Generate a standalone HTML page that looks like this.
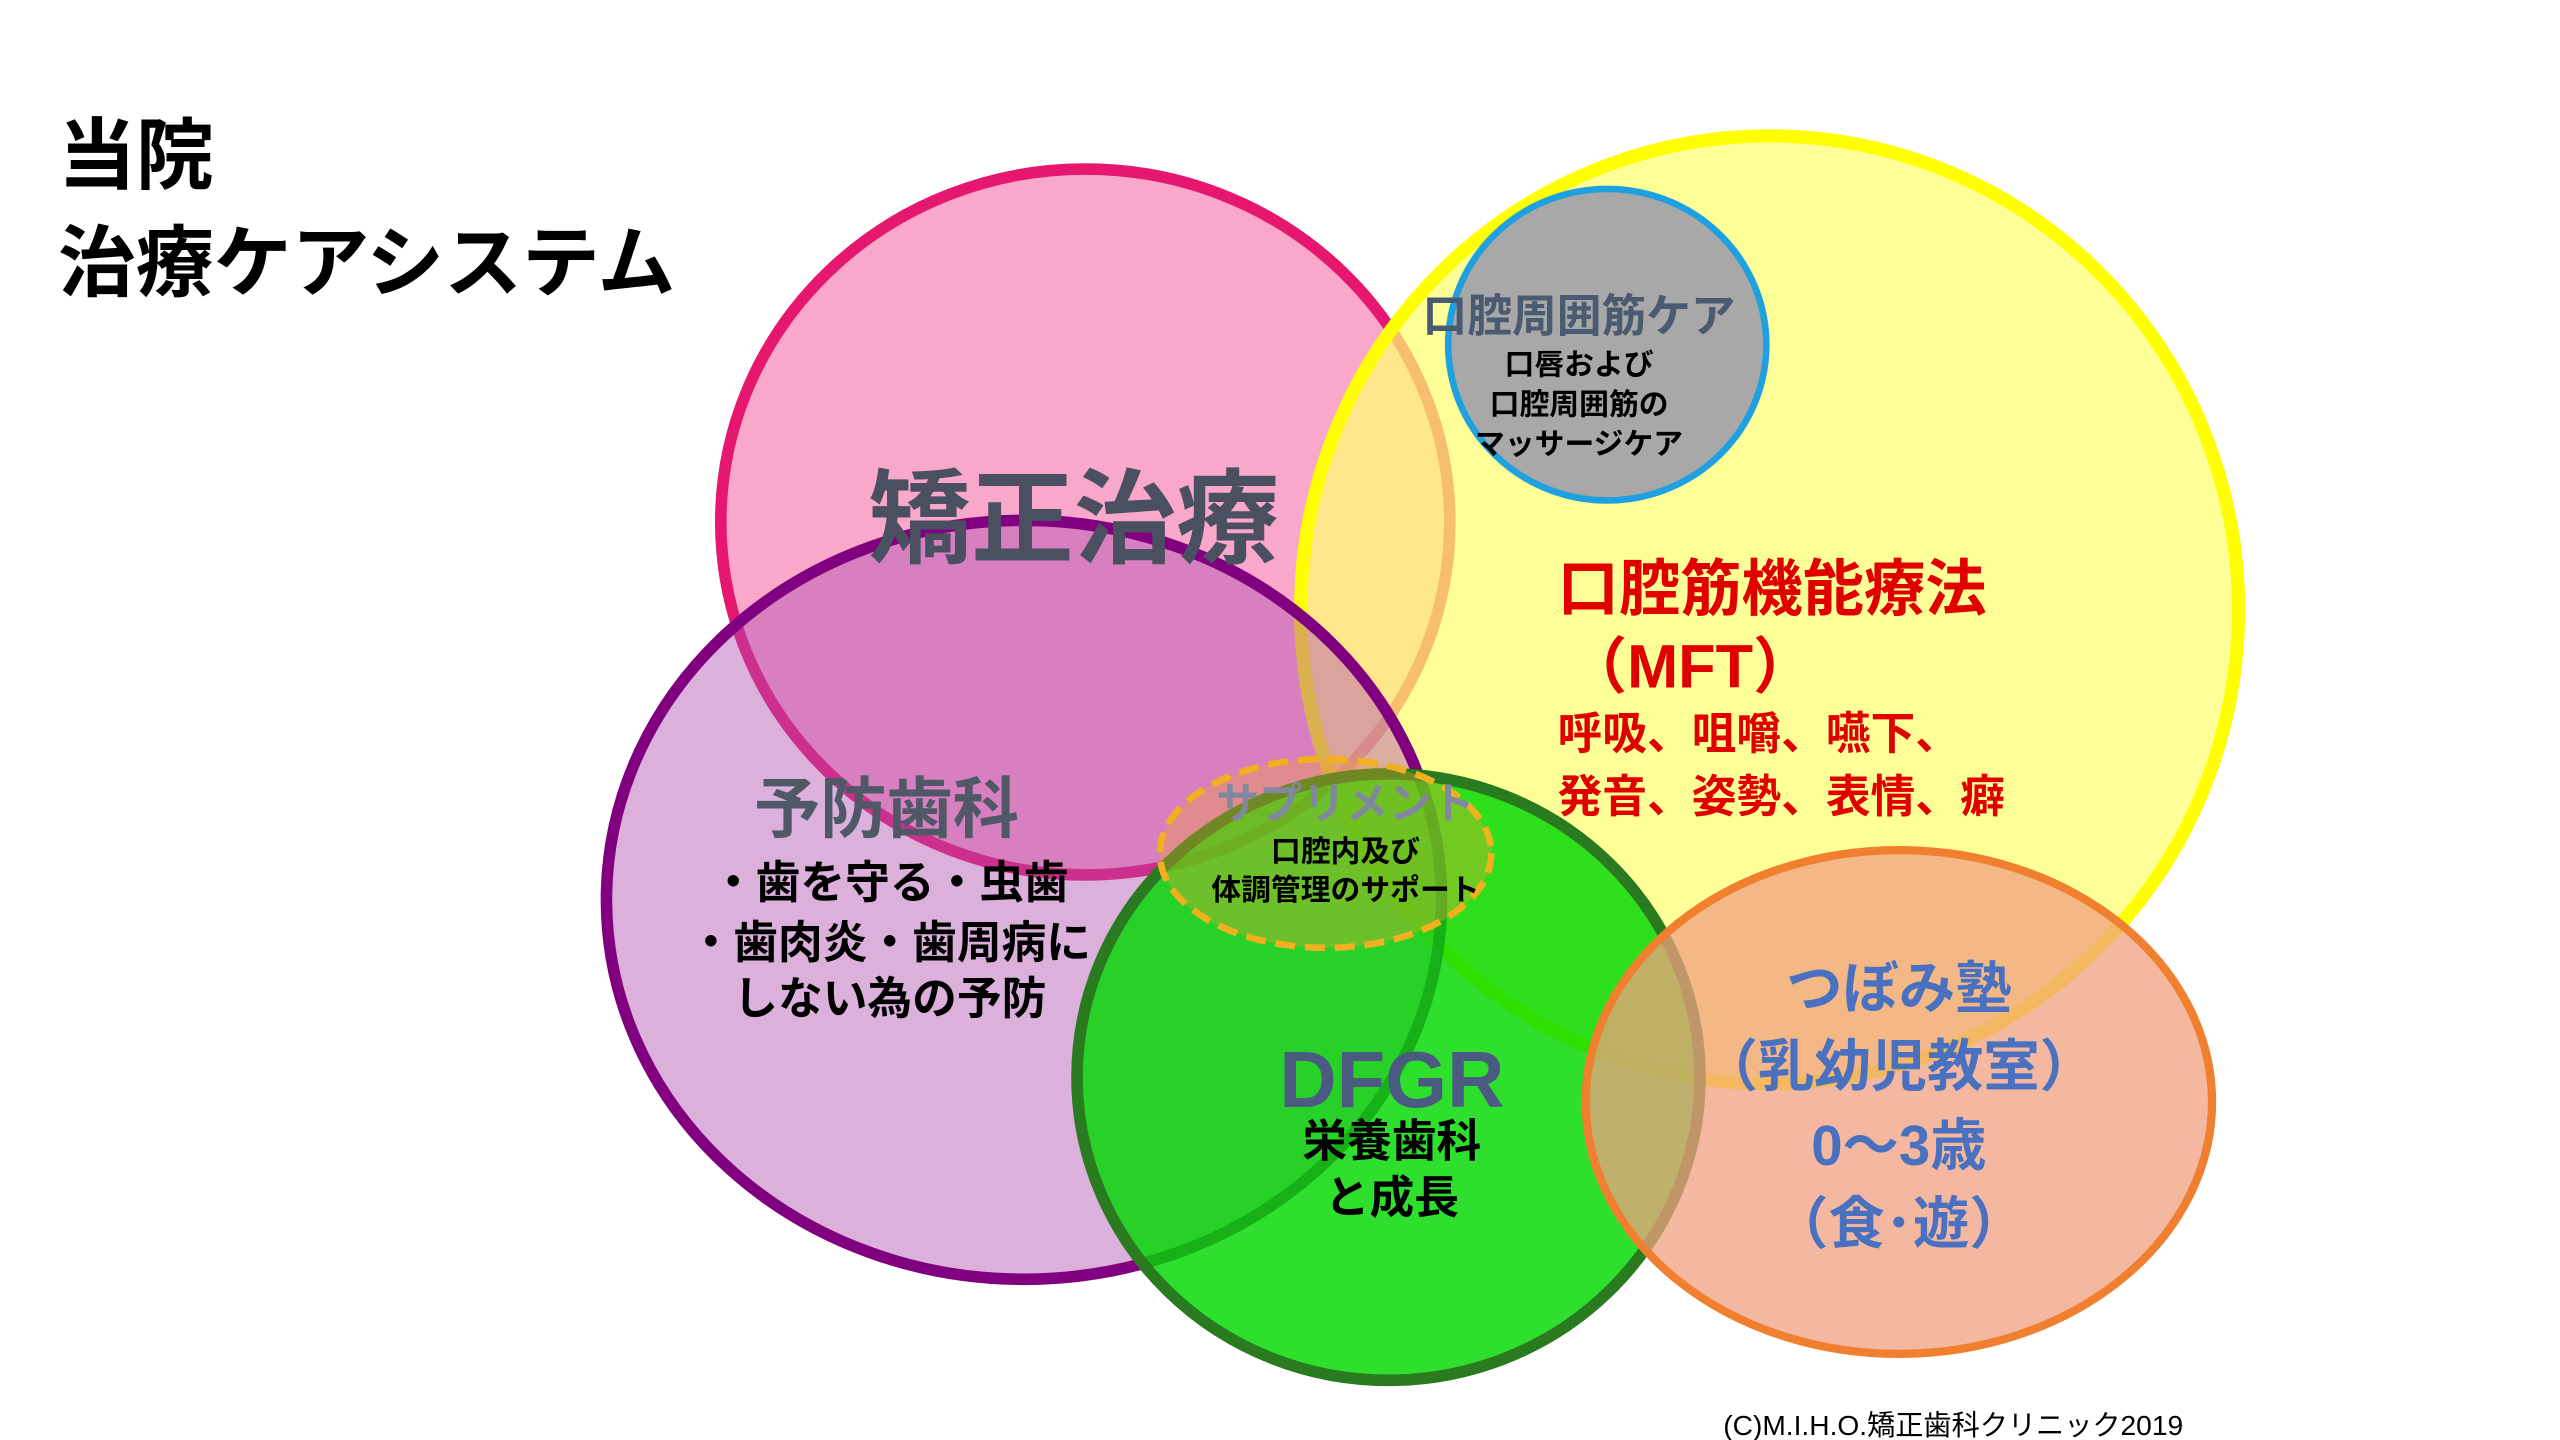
<!DOCTYPE html>
<html><head><meta charset="utf-8"><style>
html,body{margin:0;padding:0;background:#fff;}
svg{display:block;}
text{font-family:"Liberation Sans","Noto Sans CJK JP",sans-serif;font-weight:bold;}
</style></head><body>
<svg width="2560" height="1440" viewBox="0 0 1545 869" preserveAspectRatio="none" xmlns="http://www.w3.org/2000/svg">
<rect width="1545" height="869" fill="#fff"/>
<ellipse cx="655" cy="315" rx="220" ry="213" fill="#f9a8cc" stroke="#e6176f" stroke-width="7"/>
<ellipse cx="1068" cy="368" rx="283" ry="286" fill="#ffff70" fill-opacity="0.72" stroke="#ffff00" stroke-width="8"/>
<ellipse cx="618" cy="543" rx="252" ry="229" fill="#b050b0" fill-opacity="0.45" stroke="#800080" stroke-width="7"/>
<ellipse cx="838" cy="650" rx="188" ry="183" fill="#00d800" fill-opacity="0.82" stroke="#2a7a20" stroke-width="7"/>
<ellipse cx="1146" cy="665" rx="189" ry="152" fill="#f0a080" fill-opacity="0.75" stroke="#f08030" stroke-width="5"/>
<ellipse cx="970" cy="208" rx="96" ry="94" fill="#a8a8a8" stroke="#1fa0e0" stroke-width="4"/>
<ellipse cx="800" cy="515" rx="100" ry="57" fill="#f0a030" fill-opacity="0.35" stroke="#f0b020" stroke-width="4" stroke-dasharray="12,6"/>

<text x="35" y="110" font-size="47" fill="#000">当院</text>
<text x="35" y="175" font-size="47" fill="#000">治療ケアシステム</text>

<text x="648" y="335" font-size="62" fill="#4a5060" text-anchor="middle">矯正治療</text>

<text x="953" y="200" font-size="27" fill="#4a5a70" text-anchor="middle">口腔周囲筋ケア</text>
<text x="953" y="226" font-size="18" fill="#000" text-anchor="middle">口唇および</text>
<text x="953" y="250" font-size="18" fill="#000" text-anchor="middle">口腔周囲筋の</text>
<text x="953" y="274" font-size="18" fill="#000" text-anchor="middle">マッサージケア</text>

<text x="940" y="368" font-size="37" fill="#e00000">口腔筋機能療法</text>
<text x="945" y="415" font-size="37" fill="#e00000">（MFT）</text>
<text x="940" y="452" font-size="27" fill="#e00000">呼吸、咀嚼、嚥下、</text>
<text x="940" y="490" font-size="27" fill="#e00000">発音、姿勢、表情、癖</text>

<text x="535" y="502" font-size="40" fill="#505868" text-anchor="middle">予防歯科</text>
<text x="537" y="542" font-size="27" fill="#000" text-anchor="middle">・歯を守る・虫歯</text>
<text x="537" y="578" font-size="27" fill="#000" text-anchor="middle">・歯肉炎・歯周病に</text>
<text x="537" y="612" font-size="27" fill="#000" text-anchor="middle">しない為の予防</text>

<text x="812" y="494" font-size="26" fill="#8088a0" text-anchor="middle">サプリメント</text>
<text x="812" y="520" font-size="18" fill="#000" text-anchor="middle">口腔内及び</text>
<text x="812" y="543" font-size="18" fill="#000" text-anchor="middle">体調管理のサポート</text>

<text x="840" y="668" font-size="48" fill="#4a5a80" text-anchor="middle">DFGR</text>
<text x="840" y="698" font-size="27" fill="#000" text-anchor="middle">栄養歯科</text>
<text x="840" y="732" font-size="27" fill="#000" text-anchor="middle">と成長</text>

<text x="1146" y="608" font-size="34" fill="#4a70c0" text-anchor="middle">つぼみ塾</text>
<text x="1146" y="655" font-size="34" fill="#4a70c0" text-anchor="middle">（乳幼児教室）</text>
<text x="1146" y="703" font-size="34" fill="#4a70c0" text-anchor="middle">0～3歳</text>
<text x="1146" y="750" font-size="34" fill="#4a70c0" text-anchor="middle">（食･遊）</text>

<text x="1040" y="866" font-size="17" fill="#000" style="font-weight:normal">(C)M.I.H.O.矯正歯科クリニック2019</text>
</svg>
</body></html>
